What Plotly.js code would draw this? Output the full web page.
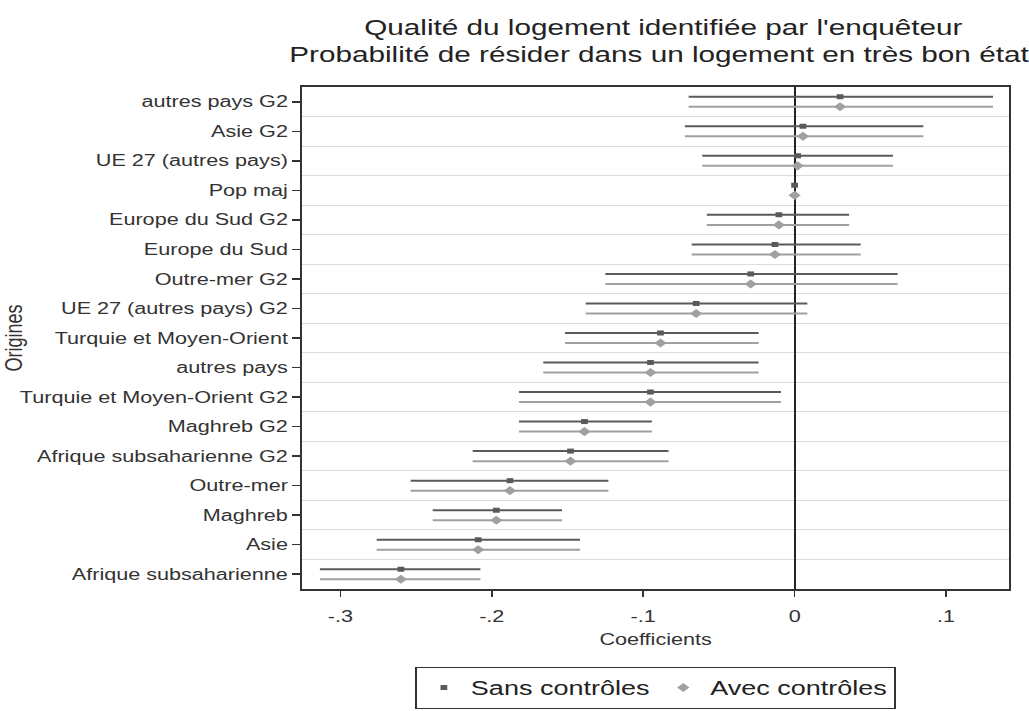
<!DOCTYPE html>
<html>
<head>
<meta charset="utf-8">
<script src="https://cdn.plot.ly/plotly-3.0.1.min.js"></script>
<style>
html,body{margin:0;padding:0;background:#fff;overflow:hidden;}
#chart{width:762px;height:711px;transform:scaleX(1.3504);transform-origin:0 0;}
</style>
</head>
<body>
<div id="chart"></div>
<script>
var categories = ["autres pays G2","Asie G2","UE 27 (autres pays)","Pop maj","Europe du Sud G2","Europe du Sud","Outre-mer G2","UE 27 (autres pays) G2","Turquie et Moyen-Orient","autres pays","Turquie et Moyen-Orient G2","Maghreb G2","Afrique subsaharienne G2","Outre-mer","Maghreb","Asie","Afrique subsaharienne"];

var coefSans  = [0.030, 0.0055, 0.002, 0, -0.0104, -0.013, -0.029, -0.065, -0.0886, -0.0952, -0.0952, -0.1388, -0.148, -0.188, -0.197, -0.209, -0.260];
var lowSans   = [-0.070, -0.0725, -0.061, 0, -0.058, -0.068, -0.125, -0.138, -0.1516, -0.166, -0.182, -0.182, -0.2126, -0.2536, -0.239, -0.276, -0.3135];
var highSans  = [0.131, 0.085, 0.065, 0, 0.036, 0.0436, 0.068, 0.0084, -0.0238, -0.0238, -0.009, -0.0943, -0.0833, -0.123, -0.1536, -0.1417, -0.2075];

var coefAvec  = [0.030, 0.0055, 0.002, 0, -0.0104, -0.013, -0.029, -0.065, -0.0886, -0.0952, -0.0952, -0.1388, -0.148, -0.188, -0.197, -0.209, -0.260];
var lowAvec   = [-0.070, -0.0725, -0.061, 0, -0.058, -0.068, -0.125, -0.138, -0.1516, -0.166, -0.182, -0.182, -0.2126, -0.2536, -0.239, -0.276, -0.3135];
var highAvec  = [0.131, 0.085, 0.065, 0, 0.036, 0.0436, 0.068, 0.0084, -0.0238, -0.0238, -0.009, -0.0943, -0.0833, -0.123, -0.1536, -0.1417, -0.2075];

var xTickVals = [-0.3, -0.2, -0.1, 0, 0.1];
var xTickText = ["-.3", "-.2", "-.1", "0", ".1"];

var idx = categories.map(function(_, i){ return i; });
var offset = 0.17;

function trace(name, coef, low, high, dy, color, symbol, size) {
  return {
    type: 'scatter', mode: 'markers', name: name,
    x: coef,
    y: idx.map(function(i){ return i + dy; }),
    marker: {color: color, symbol: symbol, size: size},
    error_x: {
      type: 'data', symmetric: false,
      array: high.map(function(h, i){ return h - coef[i]; }),
      arrayminus: low.map(function(l, i){ return coef[i] - l; }),
      color: color, thickness: 2, width: 0
    },
    hoverinfo: 'x+name'
  };
}

var data = [
  trace('Sans contrôles', coefSans, lowSans, highSans, -offset, '#5a5a5a', 'square', 5),
  trace('Avec contrôles', coefAvec, lowAvec, highAvec, offset, '#a0a0a0', 'diamond', 7),
  {type:'scatter', x:[0], y:[0], yaxis:'y2', mode:'markers', marker:{opacity:0}, showlegend:false, hoverinfo:'skip'}
];

var gridVals = [];
for (var k = 0; k < categories.length - 1; k++) gridVals.push(k + 0.5);

var layout = {
  width: 762, height: 711,
  paper_bgcolor: '#fff', plot_bgcolor: '#fff',
  font: {family: 'Liberation Sans, Arial, sans-serif', color: '#333'},
  margin: {l: 224, r: 15, t: 87, b: 122, autoexpand: false},
  title: {text: "Qualité du logement identifiée par l'enquêteur", font: {size: 22, color: '#222'},
          x: 0.511, xanchor: 'center', xref: 'paper', y: 0.961, yanchor: 'middle', yref: 'container'},
  annotations: [
    {text: "Probabilité de résider dans un logement en très bon état", xref: 'paper', yref: 'paper',
     x: 0.505, y: 1, xanchor: 'center', yanchor: 'bottom', yshift: 18, showarrow: false,
     font: {size: 22, color: '#222'}}
  ],
  xaxis: {
    range: [-0.325, 0.1414], tickvals: xTickVals, ticktext: xTickText,
    ticks: 'outside', ticklen: 6, tickwidth: 1.2, tickcolor: '#333',
    showline: true, linecolor: '#333', linewidth: 2, mirror: true,
    showgrid: false, zeroline: true, zerolinecolor: '#222', zerolinewidth: 1.4,
    tickfont: {size: 16, color: '#333'}, ticklabelstandoff: 6,
    title: {text: 'Coefficients', font: {size: 16, color: '#333'}, standoff: 10}
  },
  yaxis: {
    range: [16.5, -0.5], tickvals: idx, ticktext: categories,
    ticks: 'outside', ticklen: 6, tickwidth: 1.5, tickcolor: '#333',
    showline: true, linecolor: '#333', linewidth: 1.6, mirror: true,
    showgrid: false, zeroline: false,
    tickfont: {size: 16, color: '#333'},
    title: {text: 'Origines', font: {size: 18, color: '#333'}, standoff: 2}
  },
  yaxis2: {
    overlaying: 'y', range: [16.5, -0.5], tickvals: gridVals, showticklabels: false,
    ticks: '', showgrid: true, gridcolor: '#dcdcdc', gridwidth: 1, zeroline: false, showline: false
  },
  showlegend: true,
  legend: {orientation: 'h', x: 0.5, xanchor: 'center', y: -0.155, yanchor: 'top',
           bordercolor: '#333', borderwidth: 1.2, font: {size: 20, color: '#222'},
           traceorder: 'normal', itemwidth: 30}
};

Plotly.newPlot('chart', data, layout, {displayModeBar: false, staticPlot: true});
</script>
</body>
</html>
